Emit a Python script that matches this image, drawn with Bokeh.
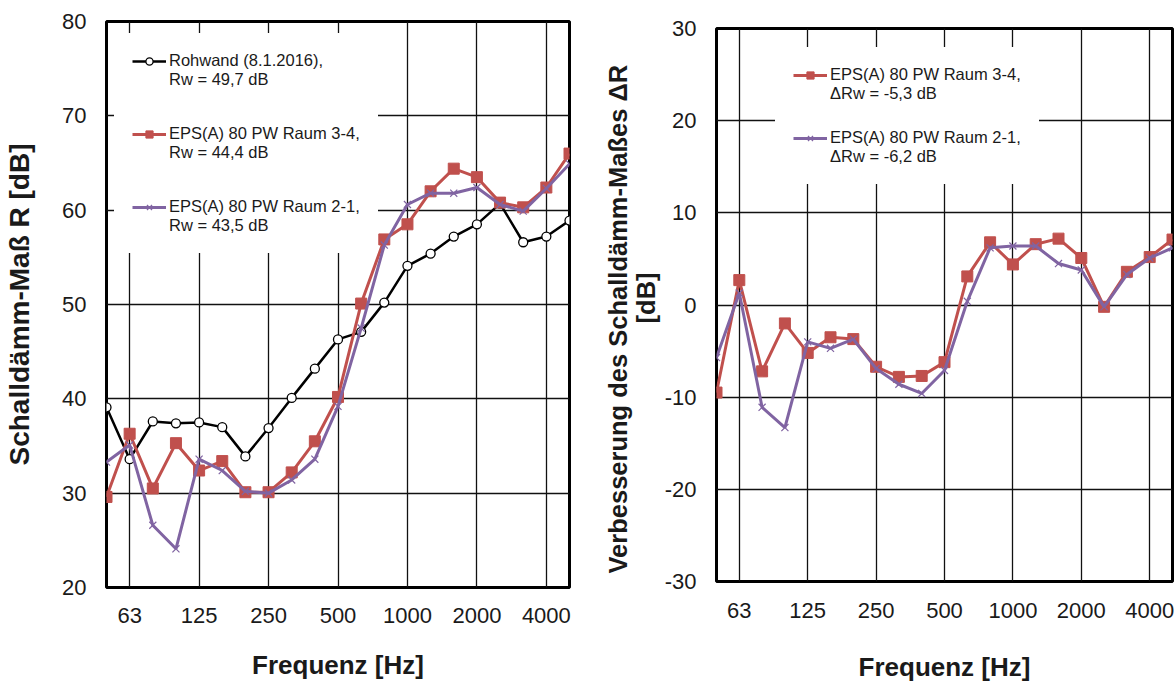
from bokeh.plotting import figure
from bokeh.layouts import row, column
from bokeh.models import FixedTicker, Legend, LegendItem, Range1d
from bokeh.embed import file_html
from bokeh.resources import INLINE

# third-octave band centre frequencies [Hz]
freqs = [50, 63, 80, 100, 125, 160, 200, 250, 315, 400, 500, 630, 800,
         1000, 1250, 1600, 2000, 2500, 3150, 4000, 5000]
tick_freqs = [63, 125, 250, 500, 1000, 2000, 4000]

# Schalldämm-Maß R [dB]
rohwand = [39.1, 33.6, 37.6, 37.4, 37.5, 37.0, 33.9, 36.9, 40.1, 43.2, 46.3,
           47.1, 50.2, 54.1, 55.4, 57.2, 58.5, 60.7, 56.6, 57.2, 58.9]
raum34 = [29.6, 36.3, 30.5, 35.3, 32.4, 33.4, 30.1, 30.1, 32.2, 35.5, 40.2,
          50.1, 56.9, 58.5, 62.0, 64.4, 63.5, 60.8, 60.3, 62.4, 66.0]
raum21 = [33.3, 35.1, 26.6, 24.1, 33.6, 32.4, 30.2, 30.0, 31.4, 33.6, 39.2,
          47.5, 56.3, 60.6, 61.8, 61.8, 62.4, 60.6, 59.9, 62.3, 64.9]

# Verbesserung ΔR [dB]
delta34 = [-9.5, 2.7, -7.2, -2.0, -5.2, -3.5, -3.7, -6.7, -7.8, -7.7, -6.2,
           3.1, 6.8, 4.4, 6.6, 7.2, 5.1, -0.2, 3.6, 5.2, 7.1]
delta21 = [-5.7, 1.3, -11.1, -13.3, -4.0, -4.7, -3.7, -6.9, -8.6, -9.6, -7.1,
           0.4, 6.2, 6.4, 6.4, 4.5, 3.8, -0.2, 3.3, 5.1, 6.2]

labels_left = [("Rohwand (8.1.2016),", "Rw = 49,7 dB"),
               ("EPS(A) 80 PW Raum 3-4,", "Rw = 44,4 dB"),
               ("EPS(A) 80 PW Raum 2-1,", "Rw = 43,5 dB")]
labels_right = [("EPS(A) 80 PW Raum 3-4,", "ΔRw = -5,3 dB"),
                ("EPS(A) 80 PW Raum 2-1,", "ΔRw = -6,2 dB")]

FONT = "Liberation Sans"
RED = "#C0504D"
PURPLE = "#8064A2"
TXT = "#1a1a1a"
NB = "\u00a0"

xs = list(range(len(freqs)))
tick_pos = [freqs.index(f) for f in tick_freqs]
overrides = {freqs.index(f): str(f) for f in tick_freqs}


def style(p, ystart, yend, ylab_size, ylab_std, xlab_std, xtick_std):
    yticks = list(range(ystart, yend + 1, 10))
    p.xaxis.ticker = FixedTicker(ticks=tick_pos)
    p.xaxis.major_label_overrides = overrides
    p.yaxis.ticker = FixedTicker(ticks=yticks)
    p.yaxis.major_label_overrides = {t: str(t) for t in yticks}
    p.xgrid.ticker = FixedTicker(ticks=tick_pos)
    p.ygrid.ticker = FixedTicker(ticks=yticks)
    for g in (p.xgrid, p.ygrid):
        g.grid_line_color = "#111111"
        g.grid_line_width = 1.3
    for ax in (p.xaxis, p.yaxis):
        ax.axis_line_color = None
        ax.major_tick_line_color = None
        ax.minor_tick_line_color = None
        ax.major_tick_out = 0
        ax.major_tick_in = 0
        ax.major_label_text_font = FONT
        ax.major_label_text_font_size = "22px"
        ax.major_label_text_color = TXT
        ax.axis_label_text_font = FONT
        ax.axis_label_text_font_style = "bold"
        ax.axis_label_text_color = TXT
    p.xaxis.axis_label_text_font_size = "26px"
    p.yaxis.axis_label_text_font_size = ylab_size
    p.yaxis.major_label_standoff = 20
    p.yaxis.axis_label_standoff = ylab_std
    p.xaxis.major_label_standoff = xtick_std
    p.xaxis.axis_label_standoff = xlab_std
    p.outline_line_color = "black"
    p.outline_line_width = 3
    p.background_fill_color = "white"
    p.border_fill_color = "white"


def add_group(p, lines, renderers, loc):
    dummy = p.line(x=[], y=[], line_alpha=0)
    leg = Legend(items=[LegendItem(label=lines[0], renderers=renderers),
                        LegendItem(label=lines[1], renderers=[dummy])],
                 location=loc, margin=0, padding=0, spacing=0,
                 glyph_width=34, glyph_height=18, label_height=18,
                 label_standoff=3, label_width=186,
                 label_text_font=FONT, label_text_font_size="16.5px",
                 label_text_color=TXT, background_fill_color="white",
                 background_fill_alpha=1.0, border_line_color="white",
                 border_line_width=18)
    p.add_layout(leg)


# ---------------- left chart ----------------
p1 = figure(width=600, height=684, x_range=Range1d(0, 20), y_range=Range1d(20, 80),
            output_backend="svg", toolbar_location=None,
            min_border_left=106, min_border_right=31, min_border_top=21,
            min_border_bottom=97,
            x_axis_label="Frequenz [Hz]", y_axis_label="Schalldämm-Maß R [dB]")
style(p1, 20, 80, "28px", 24, 24, 20)

r1 = p1.line(xs, rohwand, line_color="black", line_width=2.5)
m1 = p1.scatter(xs, rohwand, marker="circle", size=9, fill_color="white",
                line_color="black", line_width=1.3)
r2 = p1.line(xs, raum34, line_color=RED, line_width=3)
m2 = p1.scatter(xs, raum34, marker="square", size=11, fill_color=RED,
                line_color=RED)
r3 = p1.line(xs, raum21, line_color=PURPLE, line_width=3)
m3 = p1.scatter(xs, raum21, marker="x", size=10, line_color=PURPLE,
                line_width=1.2)

left_locs = [(8, 480), (8, 407), (8, 334)]
for lines, rends, loc in zip(labels_left, [[r1, m1], [r2, m2], [r3, m3]], left_locs):
    add_group(p1, lines, rends, loc)

# ---------------- right chart ----------------
p2 = figure(width=575, height=684, x_range=Range1d(0, 20), y_range=Range1d(-30, 30),
            output_backend="svg", toolbar_location=None,
            min_border_left=116, min_border_right=3, min_border_top=28,
            min_border_bottom=100,
            x_axis_label="Frequenz [Hz]",
            y_axis_label="Verbesserung des Schalldämm-Maßes ΔR" + NB * 4
                         + "\n" + NB * 2 + "[dB]")
style(p2, -30, 30, "25.5px", 2, 31, 21)
p2.yaxis.axis_label_text_line_height = 1.0

q1 = p2.line(xs, delta34, line_color=RED, line_width=3)
n1 = p2.scatter(xs, delta34, marker="square", size=11, fill_color=RED,
                line_color=RED)
q2 = p2.line(xs, delta21, line_color=PURPLE, line_width=3)
n2 = p2.scatter(xs, delta21, marker="x", size=10, line_color=PURPLE,
                line_width=1.2)

right_locs = [(59, 460), (59, 397)]
for lines, rends, loc in zip(labels_right, [[q1, n1], [q2, n2]], right_locs):
    add_group(p2, lines, rends, loc)

layout = row(column(p1), column(p2))
open("out.html", "w").write(file_html(layout, INLINE))
